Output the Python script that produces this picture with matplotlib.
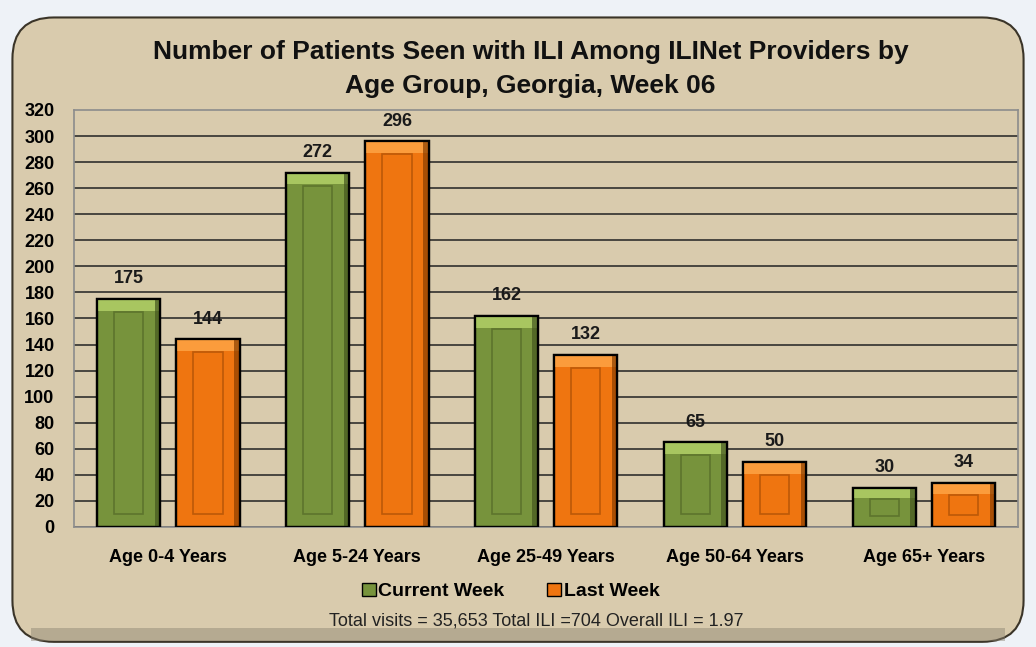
import matplotlib
matplotlib.use("Agg")
import matplotlib.pyplot as plt
from matplotlib.patches import FancyBboxPatch, Rectangle
import numpy as np

# data
groups = ["Age 0-4 Years", "Age 5-24 Years", "Age 25-49 Years", "Age 50-64 Years", "Age 65+ Years"]
current_week = [175, 272, 162, 65, 30]
last_week = [144, 296, 132, 50, 34]
series_names = ["Current Week", "Last Week"]
title = "Number of Patients Seen with ILI Among ILINet Providers by\nAge Group, Georgia, Week 06"
footer = "Total visits = 35,653 Total ILI =704 Overall ILI = 1.97"

plt.rcParams['font.family'] = ['Liberation Sans', 'DejaVu Sans']

fig = plt.figure(figsize=(10.36, 6.47), dpi=100)
fig.patch.set_facecolor("#eef2f7")

# rounded tan frame behind everything
frame = FancyBboxPatch((0.012, 0.008), 0.976, 0.965, boxstyle="round,pad=0,rounding_size=0.04",
                       transform=fig.transFigure, facecolor="#d9cbad", edgecolor="#3a3428",
                       linewidth=1.5, zorder=-2, mutation_aspect=1.6)
fig.patches.append(frame)
shade = Rectangle((0.03, 0.01), 0.94, 0.02, transform=fig.transFigure,
                  facecolor="#8a8270", edgecolor="none", alpha=0.45, zorder=-1)
fig.patches.append(shade)

ax = fig.add_axes([0.0714, 0.1855, 0.9116, 0.6445])
ax.set_facecolor("#d9cbad")

x = np.arange(len(groups))
w = 0.335
off = 0.21

def draw_bars(xs, vals, base, light, dark):
    ax.bar(xs, vals, width=w, color=base, edgecolor="black", linewidth=1.6, zorder=3)
    for xi, v in zip(xs, vals):
        inset = 0.03
        hi = min(9, v * 0.25)
        # bevel: light top strip, dark right side, inner panel
        ax.add_patch(Rectangle((xi - w / 2, v - hi), w, hi, facecolor=light,
                               edgecolor="none", zorder=4, alpha=0.8))
        ax.add_patch(Rectangle((xi + w / 2 - inset, 0), inset, v, facecolor=dark,
                               edgecolor="none", zorder=4, alpha=0.7))
        ax.add_patch(Rectangle((xi - w / 2 + 0.09, hi + 1), w - 0.18, max(v - 2 * hi - 2, 0.5),
                               facecolor="none", edgecolor=dark, linewidth=1.2, zorder=5, alpha=0.5))
        ax.bar([xi], [v], width=w, color="none", edgecolor="black", linewidth=1.6, zorder=6)
        ax.text(xi, v + 9, str(v), ha="center", va="bottom", fontsize=13,
                fontweight="bold", color="#1a1a1a", zorder=7)

draw_bars(x - off, current_week, "#77933c", "#b5d46a", "#44561f")
draw_bars(x + off, last_week, "#ef7510", "#ffa748", "#8a3e00")

ax.set_xlim(-0.5, len(groups) - 0.5)
ax.set_ylim(0, 320)
ax.set_yticks(range(0, 321, 20))
ax.set_xticks(x)
ax.set_xticklabels(groups, fontsize=13, fontweight="bold")
ax.tick_params(axis="y", labelsize=13, length=0, pad=14)
ax.tick_params(axis="x", length=0, pad=16)
for lbl in ax.get_yticklabels():
    lbl.set_fontweight("bold")
ax.grid(axis="y", color="#222222", linewidth=1.1, zorder=1)
ax.get_ygridlines()[-1].set_visible(False)
ax.set_axisbelow(True)
for s in ax.spines.values():
    s.set_color("#8c8c8c")
    s.set_linewidth(1.2)

fig.text(0.512, 0.893, title, ha="center", va="center", fontsize=19, fontweight="bold",
         linespacing=1.55, color="#111111")

# legend
handles = [Rectangle((0, 0), 1, 1, facecolor="#77933c", edgecolor="black"),
           Rectangle((0, 0), 1, 1, facecolor="#ef7510", edgecolor="black")]
leg = fig.legend(handles, series_names, loc="center", bbox_to_anchor=(0.493, 0.086), ncol=2,
                 frameon=False, handlelength=0.7, handleheight=0.7,
                 handletextpad=0.15, columnspacing=2.2, prop={"weight": "bold", "size": 14})

fig.text(0.518, 0.04, footer, ha="center", va="center", fontsize=13, color="#222222")

fig.savefig("out.png", dpi=100, facecolor=fig.get_facecolor())
